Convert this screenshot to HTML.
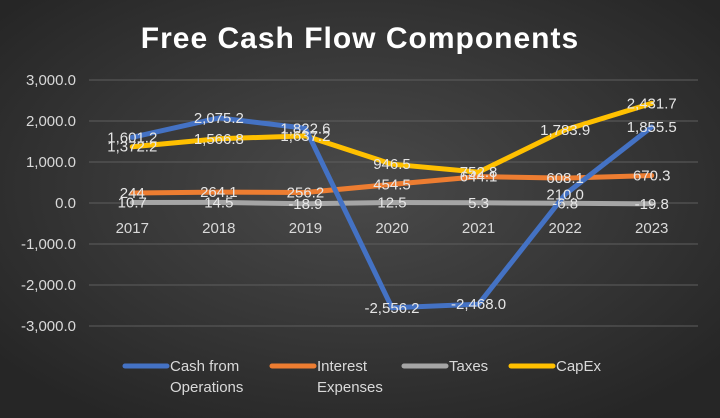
<!DOCTYPE html>
<html><head><meta charset="utf-8"><style>
body{margin:0;width:720px;height:418px;overflow:hidden}
svg{display:block;font-family:"Liberation Sans",sans-serif}
</style></head><body>
<svg id="c" width="720" height="418">
<defs><radialGradient id="bg" cx="50%" cy="45%" r="65%"><stop offset="0" stop-color="#4a4a4a"/><stop offset="1" stop-color="#262626"/></radialGradient></defs>
<rect width="720" height="418" fill="url(#bg)"/>
<text x="360" y="48" text-anchor="middle" fill="#fff" font-size="30" font-weight="bold" letter-spacing="1">Free Cash Flow Components</text>
<g id="grid"></g><g id="lines"></g><g id="labels"></g><g id="legend"></g>
</svg>
<script>
const categories=["2017","2018","2019","2020","2021","2022","2023"];
const cfo=[1601.2,2075.2,1822.6,-2556.2,-2468.0,210.0,1855.5];
const interest=[244,264.1,256.2,454.5,644.1,608.1,670.3];
const taxes=[10.7,14.5,-18.9,12.5,5.3,-6.8,-19.8];
const capex=[1372.2,1566.8,1637.2,946.5,752.8,1783.9,2431.7];
const yTicks=[3000,2000,1000,0,-1000,-2000,-3000];
const seriesNames=["Cash from Operations","Interest Expenses","Taxes","CapEx"];
const NS="http://www.w3.org/2000/svg";
const left=89,right=695,step=(right-left)/categories.length;
const x=i=>left+step*(i+0.5);
const y=v=>203-v*0.041;
function el(t,a,p){const e=document.createElementNS(NS,t);for(const k in a)e.setAttribute(k,a[k]);p.appendChild(e);return e;}
const fmt=v=>v.toLocaleString("en-US",{minimumFractionDigits:1,maximumFractionDigits:1});
const grid=document.getElementById("grid");
yTicks.forEach(t=>{
  const l=el("line",{x1:left,x2:right+3,y1:y(t),y2:y(t),stroke:"#5e5e5e","stroke-width":1},grid);
  
  
  const tx=el("text",{x:76,y:y(t)+5,"text-anchor":"end",fill:"#d9d9d9","font-size":15},grid);
  tx.textContent=fmt(t);
  
  
});
categories.forEach((c,i)=>{
  const tx=el("text",{x:x(i),y:233,"text-anchor":"middle",fill:"#d9d9d9","font-size":15},grid);
  tx.textContent=c;
  
  
});
const series=[cfo,interest,taxes,capex];
const colors=["#4472c4","#ed7d31","#a5a5a5","#ffc000"];
const order=[2,1,3,0];
const lines=document.getElementById("lines"),labels=document.getElementById("labels");
order.forEach(s=>{
  const p=el("polyline",{points:series[s].map((v,i)=>x(i)+","+y(v)).join(" "),fill:"none",stroke:colors[s],"stroke-width":5,"stroke-linejoin":"round","stroke-linecap":"round"},lines);
  
  
});
series.forEach((arr,s)=>arr.forEach((v,i)=>{
  const t=el("text",{x:x(i),y:y(v)+5,"text-anchor":"middle",fill:"#e6e6e6","font-size":15},labels);
  t.textContent=(s===1&&i===0)?"244":fmt(v);
  
  
}));
const lg=document.getElementById("legend");
const lx=[125,272,404,511];
seriesNames.forEach((n,s)=>{
  const l=el("line",{x1:lx[s],x2:lx[s]+42,y1:366,y2:366,stroke:colors[s],"stroke-width":5,"stroke-linecap":"round"},lg);
  
  
  const words=n==="Cash from Operations"?["Cash from","Operations"]:n==="Interest Expenses"?["Interest","Expenses"]:[n];
  words.forEach((w,k)=>{
    const t=el("text",{x:lx[s]+45,y:371+k*21,fill:"#d9d9d9","font-size":15},lg);
    t.textContent=w;
    
    
  });
});
</script>
</body></html>
